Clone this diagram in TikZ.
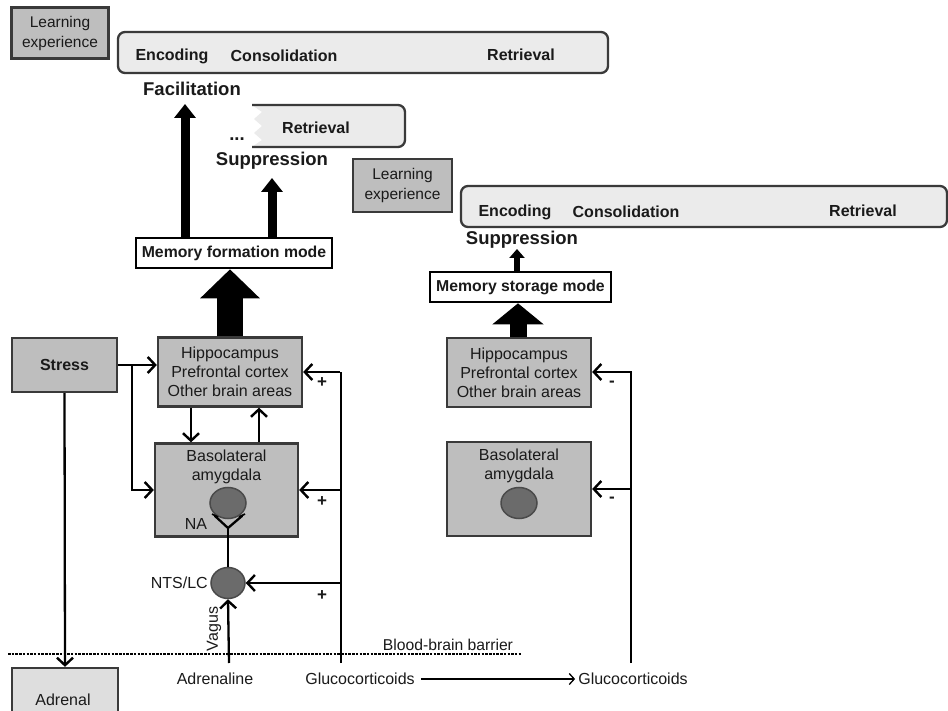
\documentclass[tikz,border=0pt]{standalone}
\usepackage{fontspec}
\setmainfont{Liberation Sans}
\usetikzlibrary{arrows.meta,shapes.geometric,calc}
\definecolor{boxgray}{HTML}{BEBEBE}
\definecolor{barfill}{HTML}{EBEBEB}
\definecolor{bord}{HTML}{3A3A3A}
\definecolor{circfill}{HTML}{6B6B6B}
\definecolor{circbord}{HTML}{4A4A4A}
\definecolor{txt}{HTML}{1A1A1A}
\begin{document}
\begin{tikzpicture}[x=1pt,y=-1pt,
  every node/.style={text=txt},
  graybox/.style={draw=bord,line width=2.3pt,fill=boxgray,inner sep=0pt,align=center},
  barbox/.style={draw=bord,line width=2.3pt,fill=barfill,rounded corners=7pt,inner sep=0pt},
  modebox/.style={draw=black,line width=2.6pt,fill=white,inner sep=0pt,font=\bfseries\fontsize{15.8}{18}\selectfont},
  bartext/.style={font=\bfseries\fontsize{16}{19}\selectfont,inner sep=0pt},
  bigtext/.style={font=\bfseries\fontsize{18.5}{22}\selectfont,inner sep=0pt},
  plain/.style={font=\fontsize{16}{19}\selectfont,inner sep=0pt,align=center},
  lexp/.style={graybox,font=\fontsize{15.5}{20}\selectfont},
  cell/.style={ellipse,draw=circbord,line width=1.5pt,fill=circfill,inner sep=0pt},
  conn/.style={line width=2.3pt,-{Straight Barb[length=7.5pt,width=16pt,line width=2.4pt]}},
  line/.style={line width=2.3pt},
  sign/.style={font=\bfseries\fontsize{17}{20}\selectfont,inner sep=0pt}
]
\clip (0,0) rectangle (948,711);
\fill[white] (0,0) rectangle (948,711);

% ---------- top left ----------
\node[lexp,minimum width=97pt,minimum height=51pt] (le1) at (60,33) {Learning\\experience};
\node[barbox,minimum width=490pt,minimum height=41pt] (bar1) at (363,52.5) {};
\node[bartext] (enc1) at (172,56) {Encoding};
\node[bartext] (con1) at (284,56) {Consolidation};
\node[bartext] (ret1) at (521,55) {Retrieval};
\node[bigtext] (fac) at (192,89) {Facilitation};

% torn retrieval bar
\fill[barfill] (252,105) -- (262,112) -- (254,119) -- (262,126) -- (254,133) -- (262,140) -- (252,147)
  -- (398,147) .. controls (402,147) and (405,144) .. (405,140) -- (405,112) .. controls (405,108) and (402,105) .. (398,105) -- cycle;
\draw[bord,line width=2.3pt,rounded corners=7pt] (252,147) -- (405,147) -- (405,105) -- (252,105);
\node[bartext] (ret2) at (316,128) {Retrieval};
\node[bigtext] (dots) at (237,139) {...};
\node[bigtext] (sup1) at (272,161) {Suppression};

\node[modebox,minimum width=196pt,minimum height=30pt] (mfm) at (234,253) {Memory formation mode};

\coordinate (xf) at (185,0);
\coordinate (facTip) at (185,104);
\coordinate (xs) at (272,0);
\coordinate (supTip) at (272,178);
\coordinate (xb) at (230,0);
\draw[line width=9pt,-{Triangle[length=14pt,width=21pt]}] (mfm.north -| xf) -- (facTip);
\draw[line width=9pt,-{Triangle[length=14pt,width=21pt]}] (mfm.north -| xs) -- (supTip);

% ---------- left brain ----------
\node[graybox,minimum width=105pt,minimum height=54pt,font=\bfseries\fontsize{16}{19}\selectfont] (stress) at (64.5,365) {Stress};
\node[graybox,minimum width=144pt,minimum height=69pt,font=\fontsize{16}{19}\selectfont] (hpc1) at (230,372) {Hippocampus\\Prefrontal cortex\\Other brain areas};
\node[graybox,minimum width=143pt,minimum height=93pt] (bla1) at (226.5,490) {};
\node[plain] (blat1) at (226.5,467) {Basolateral\\amygdala};
\node[cell,minimum width=36pt,minimum height=31pt] (c1) at (228,503) {};
\node[plain] (na) at (196,524) {NA};

\draw[line width=26pt,-{Triangle[length=29pt,width=58pt]}] (hpc1.north -| xb) -- (mfm.south -| xb);

\node[cell,minimum width=34pt,minimum height=31pt] (nts) at (228,583) {};
\node[plain,anchor=east] (ntsl) at (208,583) {NTS/LC};
\node[plain,rotate=90] (vagus) at (214,629) {Vagus};
\node[plain] (adren) at (215,679) {Adrenaline};
\node[plain] (gluco) at (360,679) {Glucocorticoids};
\node[plain] (gluco2) at (633,679) {Glucocorticoids};
\node[graybox,fill=barfill!70!boxgray,minimum width=106pt,minimum height=56pt] (adrenal) at (65,696) {};
\node[plain] (adrenalt) at (63,700) {Adrenal};

% stress connections
\coordinate (xbr) at (132,0);
\draw[conn] (stress.east) -- (stress.east -| hpc1.west);
\draw[conn] (stress.east -| xbr) |- (bla1.west);
\draw[conn] (stress.south) -- (adrenal.north);

% hpc <-> bla
\coordinate (xa) at (191,0);
\coordinate (xc) at (259,0);
\draw[conn] (hpc1.south -| xa) -- (bla1.north -| xa);
\draw[conn] (bla1.north -| xc) -- (hpc1.south -| xc);

% NA synapse
\coordinate (yj) at (228,528);
\draw[line] (nts.north) -- (yj);
\draw[line,line cap=round] (215,516) -- (yj) -- (242,516);
\draw[line width=1.6pt] (212,514) -- (218,517);
\draw[line width=1.6pt] (239,517) -- (245,514);

% adrenaline
\coordinate (ab) at (229,663);
\draw[conn] (ab) -- (nts.south);

% glucocorticoids left
\coordinate (gb) at (341,663);
\coordinate (gt) at (341,372);
\draw[line] (gb) -- (gt);
\draw[conn] ([xshift=-1.15pt]gt) -- (hpc1.east |- gt);
\draw[conn] (bla1.east -| gb) -- (bla1.east);
\draw[conn] (nts.east -| gb) -- (nts.east);
\node[sign] (p1) at (322,383) {+};
\node[sign] (p2) at (322,502) {+};
\node[sign] (p3) at (322,596) {+};

% blood-brain barrier
\coordinate (bbl) at (8,654);
\coordinate (bbr) at (522,654);
\draw[line width=1.2pt,dash pattern=on 2.5pt off 1.2pt] (bbl) -- (bbr);
\node[plain,font=\fontsize{15.7}{19}\selectfont] (bbb) at (448,645) {Blood-brain barrier};

% gluco arrow
\draw[line width=1.3pt,-{Straight Barb[length=5pt,width=11pt,line width=1.3pt]}] ([xshift=6pt]gluco.east) -- ([xshift=-3pt]gluco2.west);

% ---------- right side ----------
\node[lexp,minimum width=99pt,minimum height=53pt] (le2) at (402.5,185.5) {Learning\\experience};
\node[barbox,minimum width=486pt,minimum height=41pt] (bar2) at (704,206.5) {};
\node[bartext] (enc2) at (515,212) {Encoding};
\node[bartext] (con2) at (626,212) {Consolidation};
\node[bartext] (ret2b) at (863,211) {Retrieval};
\node[bigtext] (sup2) at (522,240) {Suppression};

\node[modebox,minimum width=181pt,minimum height=30pt] (msm) at (520.5,287) {Memory storage mode};
\node[graybox,minimum width=144pt,minimum height=69pt,font=\fontsize{16}{19}\selectfont] (hpc2) at (519,372.5) {Hippocampus\\Prefrontal cortex\\Other brain areas};
\node[graybox,minimum width=144pt,minimum height=94pt] (bla2) at (519,489) {};
\node[plain] (blat2) at (519,466) {Basolateral\\amygdala};
\node[cell,minimum width=36pt,minimum height=31pt] (c2) at (519,503) {};

\coordinate (xm) at (517,0);
\coordinate (smTip) at (517,249);
\coordinate (xn) at (518,0);
\draw[line width=6pt,-{Triangle[length=9pt,width=15pt]}] (msm.north -| xm) -- (smTip);
\draw[line width=17pt,-{Triangle[length=21pt,width=50pt]}] (hpc2.north -| xn) -- (msm.south -| xn);

\coordinate (rb) at (631,663);
\coordinate (rt) at (631,372);
\draw[line] (rb) -- (rt);
\draw[conn] ([xshift=1.15pt]rt) -- (hpc2.east |- rt);
\draw[conn] (bla2.east -| rb) -- (bla2.east);
\node[sign] (m1) at (612,384) {-};
\node[sign] (m2) at (612,500) {-};
\end{tikzpicture}
\end{document}
